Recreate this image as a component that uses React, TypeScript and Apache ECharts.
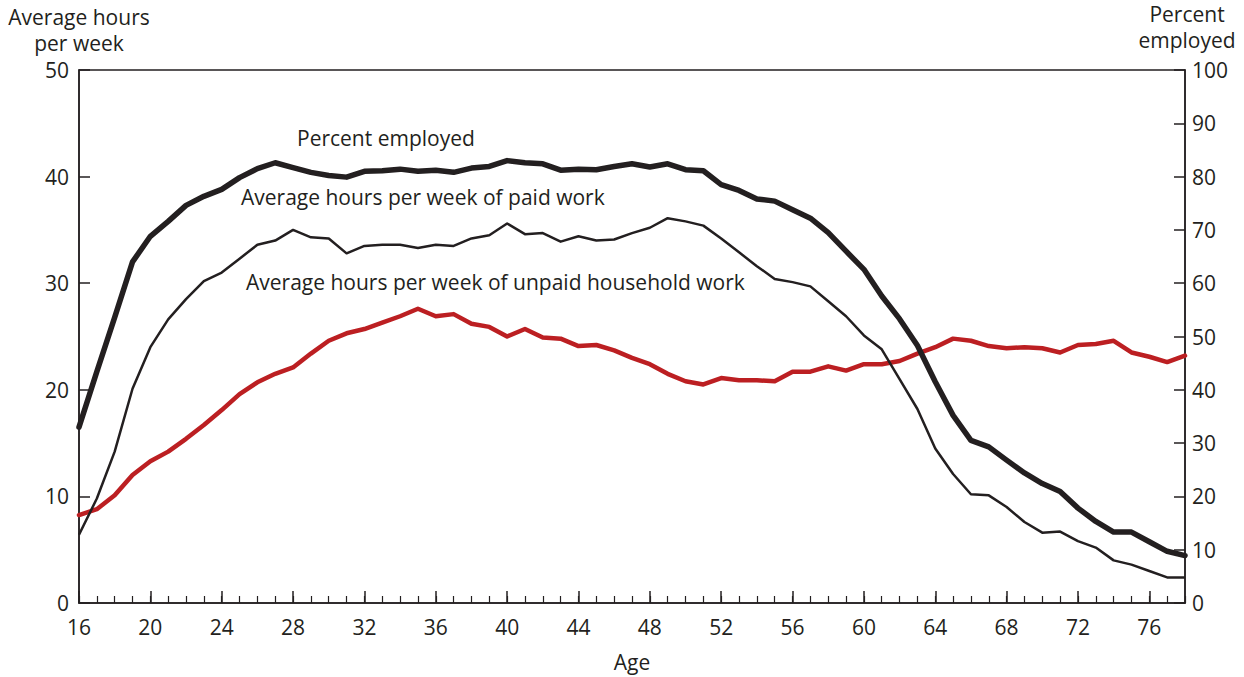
import React, { useEffect, useRef } from "react";
import * as echarts from "echarts";

const ages: number[] = [];
for (let a = 16; a <= 78; a++) ages.push(a);

const percentEmployed = [
  33.0, 43.4, 53.6, 64.0, 68.8, 71.6, 74.6, 76.3, 77.6, 79.8,
  81.5, 82.6, 81.7, 80.8, 80.2, 79.9, 81.0, 81.1, 81.4, 81.0,
  81.2, 80.8, 81.6, 81.9, 83.0, 82.6, 82.4, 81.2, 81.4, 81.3,
  81.9, 82.4, 81.8, 82.4, 81.3, 81.1, 78.5, 77.4, 75.8, 75.4,
  73.8, 72.2, 69.5, 66.0, 62.6, 57.6, 53.3, 48.3, 41.5, 35.2,
  30.5, 29.3, 26.8, 24.4, 22.4, 20.9, 17.8, 15.3, 13.3, 13.3,
  11.5, 9.7, 8.9,
];

const paidWork = [
  6.4, 9.8, 14.2, 20.1, 24.0, 26.6, 28.5, 30.2, 31.0, 32.3,
  33.6, 34.0, 35.0, 34.3, 34.2, 32.8, 33.5, 33.6, 33.6, 33.3,
  33.6, 33.5, 34.2, 34.5, 35.6, 34.6, 34.7, 33.9, 34.4, 34.0,
  34.1, 34.7, 35.2, 36.1, 35.8, 35.4, 34.2, 32.9, 31.6, 30.4,
  30.1, 29.7, 28.3, 26.9, 25.1, 23.8, 21.0, 18.2, 14.5, 12.1,
  10.2, 10.1, 9.0, 7.6, 6.6, 6.7, 5.8, 5.2, 4.0, 3.6,
  3.0, 2.4, 2.4,
];

const unpaidWork = [
  8.25, 8.8, 10.1, 12.0, 13.3, 14.2, 15.4, 16.7, 18.1, 19.6,
  20.7, 21.5, 22.1, 23.4, 24.6, 25.3, 25.7, 26.3, 26.9, 27.6,
  26.9, 27.1, 26.2, 25.9, 25.0, 25.7, 24.9, 24.8, 24.1, 24.2,
  23.7, 23.0, 22.4, 21.5, 20.8, 20.5, 21.1, 20.9, 20.9, 20.8,
  21.7, 21.7, 22.2, 21.8, 22.4, 22.4, 22.7, 23.4, 24.0, 24.8,
  24.6, 24.1, 23.9, 24.0, 23.9, 23.5, 24.2, 24.3, 24.6, 23.5,
  23.1, 22.6, 23.2,
];

const leftTitle = ["Average hours", "per week"];
const rightTitle = ["Percent", "employed"];
const xTitle = "Age";
const labelEmployed = "Percent employed";
const labelPaid = "Average hours per week of paid work";
const labelUnpaid = "Average hours per week of unpaid household work";

const FONT = "'Open Sans', sans-serif";
const TXT = "#231f20";
const FS = 21;

export default function App() {
  const ref = useRef<HTMLDivElement>(null);
  useEffect(() => {
    if (!ref.current) return;
    const chart = echarts.init(ref.current, undefined, { renderer: "svg" });
    const pair = (vals: number[]) => ages.map((a, i) => [a, vals[i]]);
    const grid = { left: 79, right: 59, top: 70, bottom: 72 };
    const centeredText = (t: string, x: number, y: number) => ({
      type: "text",
      x,
      y,
      style: { text: t, fill: TXT, font: `${FS}px ${FONT}`, align: "center", verticalAlign: "middle", lineHeight: 22 },
      z: 10,
    });
    chart.setOption({
      animation: false,
      backgroundColor: "#ffffff",
      textStyle: { fontFamily: FONT },
      grid: { ...grid, show: true, borderColor: TXT, borderWidth: 1.5, backgroundColor: "transparent" },
      xAxis: [
        {
          type: "value",
          min: 16,
          max: 78,
          interval: 4,
          axisLine: { show: true, lineStyle: { color: TXT, width: 1.5 } },
          axisTick: { show: true, inside: true, length: 12, lineStyle: { color: TXT, width: 1.5 } },
          axisLabel: {
            color: TXT,
            fontSize: FS,
            fontFamily: FONT,
            margin: 13,
            showMaxLabel: false,
            formatter: (v: number) => (v % 4 === 0 ? String(v) : ""),
          },
          splitLine: { show: false },
          name: xTitle,
          nameLocation: "middle",
          nameGap: 48,
          nameTextStyle: { color: TXT, fontSize: FS, fontFamily: FONT },
        },
        {
          type: "value",
          min: 16,
          max: 78,
          interval: 1,
          position: "bottom",
          axisLine: { show: false },
          axisTick: { show: true, inside: true, length: 7, lineStyle: { color: TXT, width: 1.2 } },
          axisLabel: { show: false },
          splitLine: { show: false },
        },
      ],
      yAxis: [
        {
          type: "value",
          min: 0,
          max: 50,
          interval: 10,
          position: "left",
          axisLine: { show: true, lineStyle: { color: TXT, width: 1.5 } },
          axisTick: { show: true, inside: true, length: 11, lineStyle: { color: TXT, width: 1.5 } },
          axisLabel: { color: TXT, fontSize: FS, fontFamily: FONT, margin: 10 },
          splitLine: { show: false },
        },
        {
          type: "value",
          min: 0,
          max: 100,
          interval: 10,
          position: "right",
          axisLine: { show: true, lineStyle: { color: TXT, width: 1.5 } },
          axisTick: { show: true, inside: true, length: 11, lineStyle: { color: TXT, width: 1.5 } },
          axisLabel: { color: TXT, fontSize: FS, fontFamily: FONT, margin: 7 },
          splitLine: { show: false },
        },
      ],
      series: [
        {
          name: labelUnpaid,
          type: "line",
          yAxisIndex: 0,
          data: pair(unpaidWork),
          showSymbol: false,
          symbol: "none",
          lineStyle: { color: "#bc1f22", width: 4.5, join: "round", cap: "round" },
          z: 2,
        },
        {
          name: labelPaid,
          type: "line",
          yAxisIndex: 0,
          data: pair(paidWork),
          showSymbol: false,
          symbol: "none",
          lineStyle: { color: TXT, width: 2.5, join: "round" },
          z: 3,
        },
        {
          name: labelEmployed,
          type: "line",
          yAxisIndex: 1,
          data: pair(percentEmployed),
          showSymbol: false,
          symbol: "none",
          lineStyle: { color: TXT, width: 5.5, join: "round", cap: "round" },
          z: 4,
        },
      ],
      graphic: [
        centeredText(leftTitle[0], 79, 17),
        centeredText(leftTitle[1], 79, 43),
        centeredText(rightTitle[0], 1187, 14),
        centeredText(rightTitle[1], 1187, 40),
        {
          type: "text",
          left: 297,
          top: 127,
          style: { text: labelEmployed, fill: TXT, font: `${FS}px ${FONT}` },
          z: 10,
        },
        {
          type: "text",
          left: 241,
          top: 186,
          style: { text: labelPaid, fill: TXT, font: `${FS}px ${FONT}` },
          z: 10,
        },
        {
          type: "text",
          left: 246,
          top: 271,
          style: { text: labelUnpaid, fill: TXT, font: `${FS}px ${FONT}` },
          z: 10,
        },
      ],
    });
    return () => chart.dispose();
  }, []);
  return (
    <div
      ref={ref}
      style={{ position: "fixed", left: 0, top: 0, width: 1244, height: 677, background: "#fff" }}
    />
  );
}
